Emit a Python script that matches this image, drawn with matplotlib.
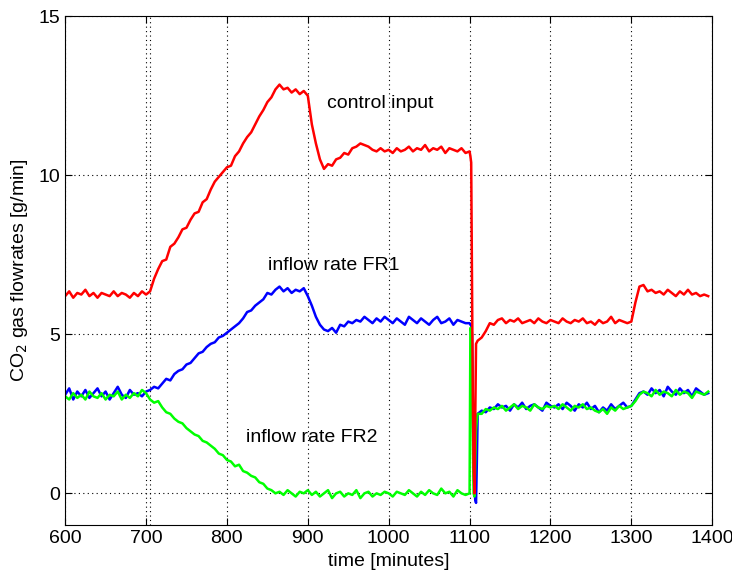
import numpy as np
import matplotlib
matplotlib.use('Agg')
import matplotlib.pyplot as plt

plt.rcParams['font.family'] = ['Liberation Sans', 'DejaVu Sans']

# time axis [minutes]: 5 min steps, 1 min steps around the shutdown at 1100
minutes = np.concatenate([np.arange(600, 1101, 5),
                          np.arange(1101, 1111, 1),
                          np.arange(1115, 1396, 5)])

# control input (red)
control_input = [
    6.20, 6.35, 6.15, 6.30, 6.25, 6.40, 6.20, 6.30, 6.15, 6.30, 6.25,
    6.20, 6.35, 6.20, 6.30, 6.25, 6.15, 6.30, 6.20, 6.35, 6.25,
    6.35, 6.75, 7.05, 7.30, 7.35, 7.75, 7.85, 8.05, 8.30, 8.35,
    8.60, 8.80, 8.85, 9.15, 9.25, 9.55, 9.80, 9.95, 10.10, 10.25,
    10.30, 10.60, 10.75, 11.00, 11.20, 11.35, 11.60, 11.85, 12.05, 12.30,
    12.45, 12.70, 12.85, 12.70, 12.75, 12.60, 12.70, 12.55, 12.65, 12.50,
    11.60, 11.00, 10.50, 10.20, 10.35, 10.30, 10.50, 10.55, 10.70, 10.65,
    10.85, 10.90, 11.00, 10.95, 10.90, 10.80, 10.75, 10.85, 10.75, 10.80,
    10.70, 10.85, 10.75, 10.80, 10.90, 10.75, 10.85, 10.80, 10.95, 10.75,
    10.85, 10.80, 10.90, 10.70, 10.85, 10.80, 10.75, 10.85, 10.70, 10.75,
    # 1101 - 1110
    10.60, 10.40, 6.50, 3.00, 0.80, 0.00, 2.20, 4.70, 4.75, 4.80,
    # 1115 - 1395
    4.90, 5.10, 5.35, 5.30, 5.45, 5.50, 5.35, 5.45, 5.40, 5.50,
    5.35, 5.40, 5.45, 5.35, 5.50, 5.40, 5.35, 5.45,
    5.40, 5.35, 5.50, 5.40, 5.35, 5.45, 5.40, 5.50, 5.35, 5.40,
    5.30, 5.45, 5.35, 5.40, 5.55, 5.35, 5.45, 5.40, 5.35, 5.40,
    6.00, 6.50, 6.55, 6.35, 6.40, 6.30, 6.35, 6.25, 6.40, 6.30,
    6.20, 6.35, 6.25, 6.40, 6.25, 6.30, 6.20, 6.25, 6.20,
]

# inflow rate FR1 (blue)
inflow_fr1 = [
    3.10, 3.30, 2.95, 3.20, 3.05, 3.25, 3.00, 3.15, 3.30, 3.05, 3.20,
    2.95, 3.15, 3.35, 3.10, 3.00, 3.25, 3.10, 3.15, 3.05, 3.20,
    3.25, 3.35, 3.30, 3.45, 3.60, 3.55, 3.75, 3.85, 3.90, 4.05,
    4.10, 4.25, 4.40, 4.45, 4.60, 4.70, 4.75, 4.90, 4.95, 5.05,
    5.15, 5.25, 5.35, 5.50, 5.70, 5.75, 5.90, 6.00, 6.10, 6.30,
    6.25, 6.40, 6.50, 6.35, 6.45, 6.30, 6.40, 6.35, 6.45, 6.20,
    5.90, 5.55, 5.30, 5.15, 5.10, 5.20, 5.05, 5.30, 5.25, 5.40,
    5.35, 5.45, 5.40, 5.55, 5.45, 5.35, 5.50, 5.40, 5.55, 5.45,
    5.35, 5.50, 5.40, 5.30, 5.55, 5.45, 5.35, 5.50, 5.40, 5.30,
    5.45, 5.55, 5.35, 5.40, 5.50, 5.30, 5.45, 5.40, 5.35, 5.35,
    # 1101 - 1110
    5.30, 5.30, 5.00, 3.00, 1.00, 0.20, -0.20, -0.30, 1.00, 2.50,
    # 1115 - 1395
    2.60, 2.55, 2.70, 2.65, 2.80, 2.70, 2.75, 2.60, 2.80, 2.70,
    2.85, 2.65, 2.75, 2.80, 2.70, 2.60, 2.85, 2.75,
    2.70, 2.80, 2.65, 2.85, 2.75, 2.60, 2.80, 2.70, 2.85, 2.65,
    2.75, 2.55, 2.70, 2.60, 2.80, 2.65, 2.75, 2.85, 2.70, 2.75,
    2.95, 3.15, 3.20, 3.10, 3.30, 3.15, 3.25, 3.05, 3.35, 3.20,
    3.10, 3.30, 3.15, 3.25, 3.05, 3.30, 3.20, 3.10, 3.15,
]

# inflow rate FR2 (green)
inflow_fr2 = [
    3.05, 2.95, 3.15, 3.00, 3.10, 2.95, 3.20, 3.05, 3.00, 3.15, 2.95,
    3.10, 3.05, 3.20, 2.95, 3.10, 3.00, 3.15, 3.05, 3.25, 3.15,
    2.95, 2.85, 2.90, 2.70, 2.55, 2.50, 2.35, 2.25, 2.20, 2.05,
    1.95, 1.85, 1.80, 1.65, 1.60, 1.50, 1.40, 1.25, 1.20, 1.05,
    1.00, 0.85, 0.90, 0.70, 0.65, 0.55, 0.50, 0.35, 0.30, 0.15,
    0.10, 0.00, 0.05, -0.05, 0.10, 0.00, -0.10, 0.05, 0.00, 0.10,
    -0.05, 0.05, -0.10, 0.00, 0.10, -0.15, 0.00, 0.05, -0.10, 0.00,
    -0.05, 0.10, -0.15, 0.00, 0.05, -0.10, 0.00, -0.05, 0.05, 0.00,
    -0.10, 0.05, 0.00, -0.05, 0.10, 0.00, -0.10, 0.05, -0.05, 0.10,
    0.00, -0.05, 0.15, 0.00, 0.05, -0.10, 0.10, 0.00, -0.05, 0.00,
    # 1101 - 1110
    5.20, 5.10, 4.00, 1.50, 0.00, -0.10, 1.00, 2.00, 2.30, 2.50,
    # 1115 - 1395
    2.50, 2.65, 2.60, 2.70, 2.65, 2.75, 2.60, 2.70, 2.80, 2.65,
    2.75, 2.70, 2.60, 2.80, 2.70, 2.65, 2.75, 2.70,
    2.75, 2.65, 2.80, 2.70, 2.60, 2.75, 2.70, 2.80, 2.65, 2.70,
    2.60, 2.55, 2.65, 2.50, 2.70, 2.60, 2.75, 2.65, 2.70, 2.75,
    2.90, 3.10, 3.20, 3.15, 3.05, 3.25, 3.10, 3.20, 3.15, 3.05,
    3.25, 3.10, 3.20, 3.15, 3.00, 3.20, 3.15, 3.10, 3.20,
]

fig = plt.figure(figsize=(7.32, 5.79), dpi=100)
ax = fig.add_axes([0.089, 0.093, 0.884, 0.879])

ax.plot(minutes, inflow_fr1, color=(0, 0, 1), lw=1.8)
ax.plot(minutes, inflow_fr2, color=(0, 1, 0), lw=1.8)
ax.plot(minutes, control_input, color=(1, 0, 0), lw=1.8)

# extra marker line just after 700
ax.axvline(705, color='black', ls=(0, (1, 3)), lw=0.8, zorder=0)

ax.set_xlim(600, 1400)
ax.set_ylim(-1, 15)
ax.set_xticks(np.arange(600, 1401, 100))
ax.set_yticks([0, 5, 10, 15])
ax.grid(True, color='black', ls=(0, (1, 3)), lw=0.8)
ax.set_axisbelow(True)
ax.tick_params(direction='in', top=True, right=True, labelsize=14, length=5)

ax.set_xlabel('time [minutes]', fontsize=14, labelpad=4)
ax.set_ylabel('CO$_2$ gas flowrates [g/min]', fontsize=14, labelpad=6)

ax.text(924, 12.25, 'control input', fontsize=14, va='center')
ax.text(851, 7.15, 'inflow rate FR1', fontsize=14, va='center')
ax.text(824, 1.75, 'inflow rate FR2', fontsize=14, va='center')

fig.savefig('out.png', dpi=100)
